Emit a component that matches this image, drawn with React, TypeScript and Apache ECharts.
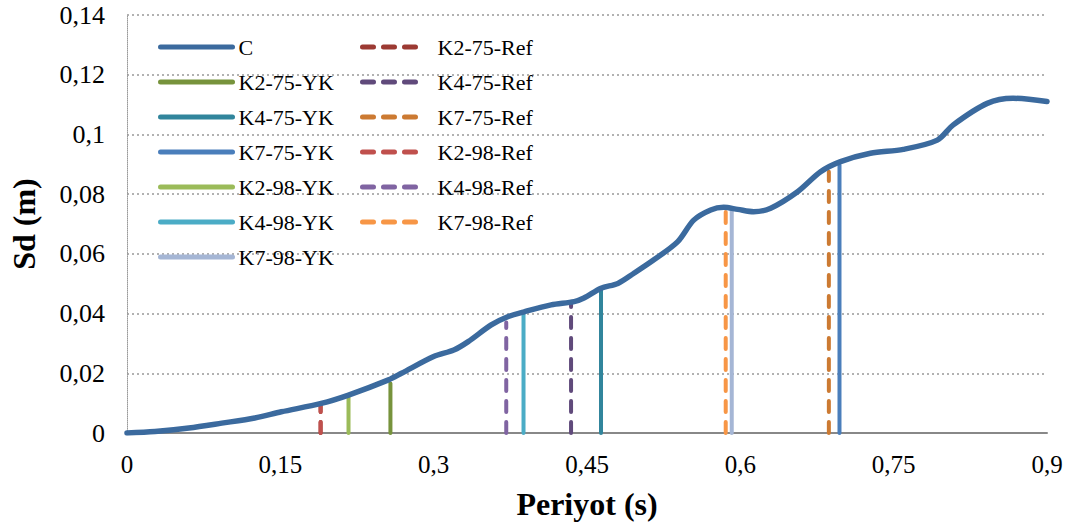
import React, { useEffect, useRef } from "react";
import * as echarts from "echarts";

const curveX = [0, 0.0273, 0.0605, 0.0927, 0.125, 0.151, 0.19, 0.2167, 0.2558, 0.2685, 0.3, 0.3197, 0.3338, 0.3563, 0.373, 0.3885, 0.4149, 0.4374, 0.447, 0.4637, 0.4802, 0.4959, 0.5154, 0.5388, 0.5544, 0.571, 0.5837, 0.5974, 0.6131, 0.6297, 0.656, 0.6785, 0.698, 0.7273, 0.7595, 0.7927, 0.8083, 0.8415, 0.8669, 0.9];
const curveY = [0, 0.0005, 0.0017, 0.0033, 0.005, 0.0071, 0.0099, 0.0127, 0.0178, 0.02, 0.0256, 0.0278, 0.0306, 0.0362, 0.039, 0.0406, 0.0429, 0.044, 0.0452, 0.0485, 0.0501, 0.0535, 0.058, 0.0641, 0.0713, 0.0747, 0.0756, 0.0749, 0.0741, 0.0753, 0.0808, 0.0875, 0.0909, 0.0937, 0.095, 0.0981, 0.1032, 0.1104, 0.1121, 0.111];

const ykNames = ["K2-75-YK", "K4-75-YK", "K7-75-YK", "K2-98-YK", "K4-98-YK", "K7-98-YK"];
const ykPeriods = [0.2577, 0.4637, 0.697, 0.2167, 0.3879, 0.5916];
const ykTops = [0.0166, 0.0479, 0.0898, 0.0122, 0.0401, 0.0747];
const ykColors = ["#77933C", "#31859C", "#4A7EBB", "#9BBB59", "#4BACC6", "#A5B6D5"];

const refNames = ["K2-75-Ref", "K4-75-Ref", "K7-75-Ref", "K2-98-Ref", "K4-98-Ref", "K7-98-Ref"];
const refPeriods = [0.1894, 0.4344, 0.6866, 0.1894, 0.371, 0.5857];
const refTops = [0.0095, 0.0434, 0.0875, 0.0095, 0.037, 0.0741];
const refColors = ["#9C3A33", "#604A7B", "#CC7A32", "#C0504D", "#8064A2", "#F79646"];

const xTicks = { min: 0, max: 0.9, interval: 0.15 };
const yTicks = { min: 0, max: 0.14, interval: 0.02 };

const FONT = "Times New Roman, Liberation Serif, DejaVu Serif, serif";
const fmt = (v: number) => String(+v.toFixed(4)).replace(".", ",");

export default function App() {
  const ref = useRef<HTMLDivElement>(null);
  useEffect(() => {
    if (!ref.current) return;
    const chart = echarts.init(ref.current, null, { renderer: "svg" });
    const vline = (name: string, x: number, top: number, color: string, dashed: boolean) => ({
      name,
      type: "line",
      data: [[x, 0], [x, top]],
      symbol: "none",
      z: 2,
      lineStyle: { color, width: 4, type: dashed ? [11, 10] : "solid", cap: "round" },
      itemStyle: { color },
    });
    const series: any[] = [
      {
        name: "C",
        type: "line",
        data: curveX.map((x, i) => [x, curveY[i]]),
        symbol: "none",
        smooth: 0.3,
        z: 5,
        lineStyle: { color: "#3B6A9E", width: 5.5, cap: "round" },
        itemStyle: { color: "#3B6A9E" },
      },
      ...ykNames.map((n, i) => vline(n, ykPeriods[i], ykTops[i], ykColors[i], false)),
      ...refNames.map((n, i) => vline(n, refPeriods[i], refTops[i], refColors[i], true)),
    ];
    const legendCommon = {
      orient: "vertical",
      top: 31,
      itemHeight: 14,
      itemGap: 13,
      itemStyle: { opacity: 0 },
      lineStyle: { width: 5, cap: "round" },
      selectedMode: false,
    };
    chart.setOption({
      animation: false,
      backgroundColor: "#fff",
      textStyle: { fontFamily: FONT },
      grid: { left: 125, right: 25, top: 15, bottom: 93, containLabel: false },
      legend: [
        {
          ...legendCommon,
          left: 153,
          itemWidth: 72,
          textStyle: { fontFamily: FONT, fontSize: 22, color: "#000", padding: [0, 0, 0, 1] },
          data: ["C", ...ykNames],
        },
        {
          ...legendCommon,
          left: 355,
          itemWidth: 63,
          textStyle: { fontFamily: FONT, fontSize: 22, color: "#000", padding: [0, 0, 0, 7] },
          data: refNames,
        },
      ],
      xAxis: {
        type: "value",
        ...xTicks,
        name: "Periyot (s)",
        nameLocation: "middle",
        nameGap: 55,
        nameTextStyle: { fontFamily: FONT, fontSize: 32, fontWeight: "bold", color: "#000" },
        axisLine: { show: true, lineStyle: { color: "#888", width: 2 } },
        axisTick: { show: false },
        splitLine: { show: false },
        axisLabel: { formatter: fmt, fontFamily: FONT, fontSize: 25, color: "#000", margin: 19 },
      },
      yAxis: {
        type: "value",
        ...yTicks,
        name: "Sd (m)",
        nameLocation: "middle",
        nameGap: 87,
        nameTextStyle: { fontFamily: FONT, fontSize: 32, fontWeight: "bold", color: "#000" },
        axisLine: { show: true, lineStyle: { color: "#999", width: 1, type: "dotted" } },
        axisTick: { show: false },
        splitLine: { show: true, lineStyle: { color: "#999", width: 1.5, type: [2, 3] } },
        axisLabel: { formatter: fmt, fontFamily: FONT, fontSize: 26, color: "#000", margin: 22 },
      },
      series,
    });
    return () => chart.dispose();
  }, []);
  return <div ref={ref} style={{ width: 1072, height: 526, position: "absolute", left: 0, top: 0 }} />;
}
